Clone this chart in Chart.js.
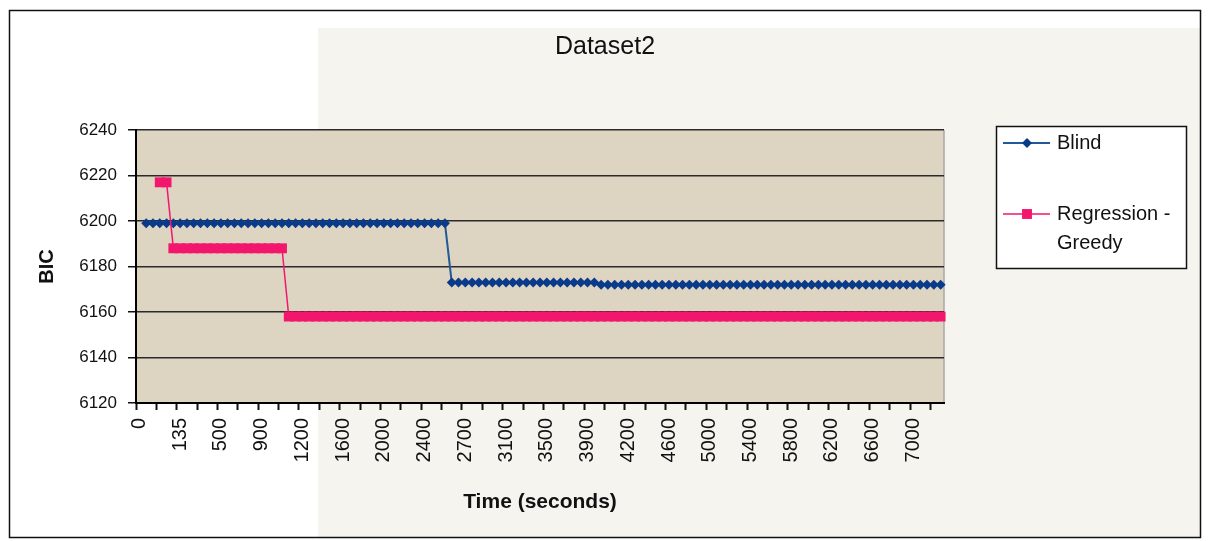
<!DOCTYPE html>
<html><head><meta charset="utf-8">
<script src="https://cdn.jsdelivr.net/npm/chart.js@4.4.1/dist/chart.umd.min.js"></script>
<style>html,body{margin:0;padding:0;background:#fff;} #wrap{position:relative;width:1210px;height:541px;} canvas{display:block;}</style>
</head><body><div id="wrap"><canvas id="c" width="1210" height="541"></canvas></div>
<script>
// ---- data ----
const timeLabels = [
  0, 20, 45, 70, 90, 115,
  135, 195, 260, 320, 380, 440,
  500, 565, 635, 700, 765, 835,
  900, 950, 1000, 1050, 1100, 1150,
  1200, 1265, 1335, 1400, 1465, 1535,
  1600, 1665, 1735, 1800, 1865, 1935,
  2000, 2065, 2135, 2200, 2265, 2335,
  2400, 2450, 2500, 2550, 2600, 2650,
  2700, 2765, 2835, 2900, 2965, 3035,
  3100, 3165, 3235, 3300, 3365, 3435,
  3500, 3565, 3635, 3700, 3765, 3835,
  3900, 3950, 4000, 4050, 4100, 4150,
  4200, 4265, 4335, 4400, 4465, 4535,
  4600, 4665, 4735, 4800, 4865, 4935,
  5000, 5065, 5135, 5200, 5265, 5335,
  5400, 5465, 5535, 5600, 5665, 5735,
  5800, 5865, 5935, 6000, 6065, 6135,
  6200, 6265, 6335, 6400, 6465, 6535,
  6600, 6665, 6735, 6800, 6865, 6935,
  7000, 7065, 7135, 7200, 7265
];
const blindBIC = [
  null, 6199, 6199, 6199, 6199, 6199, 6199, 6199, 6199, 6199,
  6199, 6199, 6199, 6199, 6199, 6199, 6199, 6199, 6199, 6199,
  6199, 6199, 6199, 6199, 6199, 6199, 6199, 6199, 6199, 6199,
  6199, 6199, 6199, 6199, 6199, 6199, 6199, 6199, 6199, 6199,
  6199, 6199, 6199, 6199, 6199, 6199, 6173, 6173, 6173, 6173,
  6173, 6173, 6173, 6173, 6173, 6173, 6173, 6173, 6173, 6173,
  6173, 6173, 6173, 6173, 6173, 6173, 6173, 6173, 6172, 6172,
  6172, 6172, 6172, 6172, 6172, 6172, 6172, 6172, 6172, 6172,
  6172, 6172, 6172, 6172, 6172, 6172, 6172, 6172, 6172, 6172,
  6172, 6172, 6172, 6172, 6172, 6172, 6172, 6172, 6172, 6172,
  6172, 6172, 6172, 6172, 6172, 6172, 6172, 6172, 6172, 6172,
  6172, 6172, 6172, 6172, 6172, 6172, 6172, 6172, 6172
];
const greedyBIC = [
  null, null, null, 6217, 6217, 6188, 6188, 6188, 6188, 6188,
  6188, 6188, 6188, 6188, 6188, 6188, 6188, 6188, 6188, 6188,
  6188, 6188, 6158, 6158, 6158, 6158, 6158, 6158, 6158, 6158,
  6158, 6158, 6158, 6158, 6158, 6158, 6158, 6158, 6158, 6158,
  6158, 6158, 6158, 6158, 6158, 6158, 6158, 6158, 6158, 6158,
  6158, 6158, 6158, 6158, 6158, 6158, 6158, 6158, 6158, 6158,
  6158, 6158, 6158, 6158, 6158, 6158, 6158, 6158, 6158, 6158,
  6158, 6158, 6158, 6158, 6158, 6158, 6158, 6158, 6158, 6158,
  6158, 6158, 6158, 6158, 6158, 6158, 6158, 6158, 6158, 6158,
  6158, 6158, 6158, 6158, 6158, 6158, 6158, 6158, 6158, 6158,
  6158, 6158, 6158, 6158, 6158, 6158, 6158, 6158, 6158, 6158,
  6158, 6158, 6158, 6158, 6158, 6158, 6158, 6158, 6158
];
const seriesNames = ['Blind', 'Regression - Greedy'];
const legendLines = [['Blind'], ['Regression -', 'Greedy']];
const yMin = 6120, yMax = 6240, yStep = 20;
const labelEvery = 6;

// ---- styles ----
const FONT = "'Liberation Sans', Arial, sans-serif";
const BLUE = '#0a3a8a', BLUE_LINE = '#215a97', PINK = '#f2176d';

const bgPlugin = {
  id: 'bg',
  beforeDraw(chart) {
    const {ctx, chartArea: a} = chart;
    ctx.save();
    ctx.fillStyle = '#ffffff';
    ctx.fillRect(0, 0, chart.width, chart.height);
    ctx.fillStyle = '#f6f4ef';
    ctx.fillRect(318, 28, 882, 509);
    ctx.fillStyle = '#ddd4c2';
    ctx.fillRect(a.left, a.top, a.right - a.left, a.bottom - a.top);
    ctx.strokeStyle = '#a8a8a8';
    ctx.lineWidth = 1.5;
    ctx.beginPath();
    ctx.moveTo(a.right, a.top); ctx.lineTo(a.right, a.bottom);
    ctx.stroke();
    ctx.restore();
  },
  afterDraw(chart) {
    const ctx = chart.ctx;
    ctx.save();
    ctx.strokeStyle = '#111';
    ctx.lineWidth = 1.5;
    ctx.strokeRect(9.5, 10.5, 1191, 527);
    ctx.restore();
  }
};

function drawMarker(ctx, style, x, y, r, color) {
  ctx.fillStyle = color;
  ctx.beginPath();
  if (style === 'rectRot') {
    ctx.moveTo(x - r, y); ctx.lineTo(x, y - r); ctx.lineTo(x + r, y); ctx.lineTo(x, y + r);
  } else {
    const s = r * Math.SQRT1_2;
    ctx.rect(x - s, y - s, 2 * s, 2 * s);
  }
  ctx.closePath();
  ctx.fill();
}

const legendPlugin = {
  id: 'boxLegend',
  afterDraw(chart) {
    const ctx = chart.ctx;
    const bx = 996, by = 126, bw = 190, bh = 142;
    ctx.save();
    ctx.fillStyle = '#fff';
    ctx.fillRect(bx, by, bw, bh);
    ctx.strokeStyle = '#111';
    ctx.lineWidth = 1.5;
    ctx.strokeRect(bx + 0.5, by + 0.5, bw, bh);
    const rows = [143, 214];
    chart.data.datasets.forEach((ds, i) => {
      const y = rows[i];
      ctx.strokeStyle = ds.borderColor;
      ctx.lineWidth = ds.borderWidth;
      ctx.beginPath(); ctx.moveTo(1003, y); ctx.lineTo(1050, y); ctx.stroke();
      drawMarker(ctx, ds.pointStyle, 1027, y, ds.pointRadius, ds.pointBackgroundColor);
      ctx.fillStyle = '#111';
      ctx.font = '20px ' + FONT;
      ctx.textAlign = 'left';
      ctx.textBaseline = 'middle';
      legendLines[i].forEach((t, k) => ctx.fillText(t, 1057, y + k * 29));
    });
    ctx.restore();
  }
};

new Chart(document.getElementById('c'), {
  type: 'line',
  data: {
    labels: timeLabels,
    datasets: [
      {label: seriesNames[0], data: blindBIC, borderColor: BLUE_LINE, borderWidth: 2,
       pointStyle: 'rectRot', pointRadius: 5, pointBorderWidth: 0,
       pointBackgroundColor: BLUE, pointBorderColor: BLUE, order: 1},
      {label: seriesNames[1], data: greedyBIC, borderColor: PINK, borderWidth: 1.5,
       pointStyle: 'rect', pointRadius: 7, pointBorderWidth: 0,
       pointBackgroundColor: PINK, pointBorderColor: PINK, order: 0}
    ]
  },
  options: {
    responsive: false,
    animation: false,
    events: [],
    layout: {padding: 0},
    plugins: {
      legend: {display: false},
      tooltip: {enabled: false},
      title: {display: true, text: 'Dataset2', color: '#111',
              font: {family: FONT, size: 25, weight: 'normal'}, padding: {top: 32, bottom: 68}}
    },
    scales: {
      x: {
        type: 'category',
        offset: true,
        afterFit(s) { s.height = 138; },
        afterBuildTicks(s) {
          const n = timeLabels.length;
          const t = [];
          for (let i = 0; i < n; i += labelEvery) t.push({value: i});
          for (let v = -0.5; v <= n - 0.5 + 1e-9; v += 1.5) t.push({value: v});
          t.sort((a, b) => a.value - b.value);
          s.ticks = t;
        },
        ticks: {
          autoSkip: false, minRotation: 90, maxRotation: 90, padding: 8, color: '#111',
          font: {family: FONT, size: 20},
          callback(v) { return (Number.isInteger(v) && v % labelEvery === 0) ? String(timeLabels[v]) : ''; }
        },
        grid: {
          drawOnChartArea: false, drawTicks: true, tickLength: 7, offset: false, tickWidth: 2,
          tickColor: c => (c.tick && Number.isInteger(c.tick.value)) ? 'rgba(0,0,0,0)' : '#111'
        },
        border: {color: '#000', width: 2},
        title: {display: true, text: 'Time (seconds)', color: '#111',
                font: {family: FONT, size: 21, weight: 'bold'}, padding: {top: 0, bottom: 26}}
      },
      y: {
        min: yMin, max: yMax,
        afterFit(s) { s.width = 136; },
        ticks: {stepSize: yStep, padding: 11, color: '#111', font: {family: FONT, size: 17},
                callback: v => String(v)},
        grid: {color: '#2a2a2a', lineWidth: 1.5, tickLength: 8, tickColor: '#111'},
        border: {color: '#000', width: 2},
        title: {display: true, text: 'BIC', color: '#111',
                font: {family: FONT, size: 20, weight: 'bold'}, padding: {top: 35, bottom: 0}}
      },
      legendSpace: {
        type: 'linear', position: 'right', display: true,
        afterFit(s) { s.width = 266; },
        grid: {display: false, drawTicks: false},
        border: {display: false},
        ticks: {display: false}
      }
    }
  },
  plugins: [bgPlugin, legendPlugin]
});
</script>
</body></html>
